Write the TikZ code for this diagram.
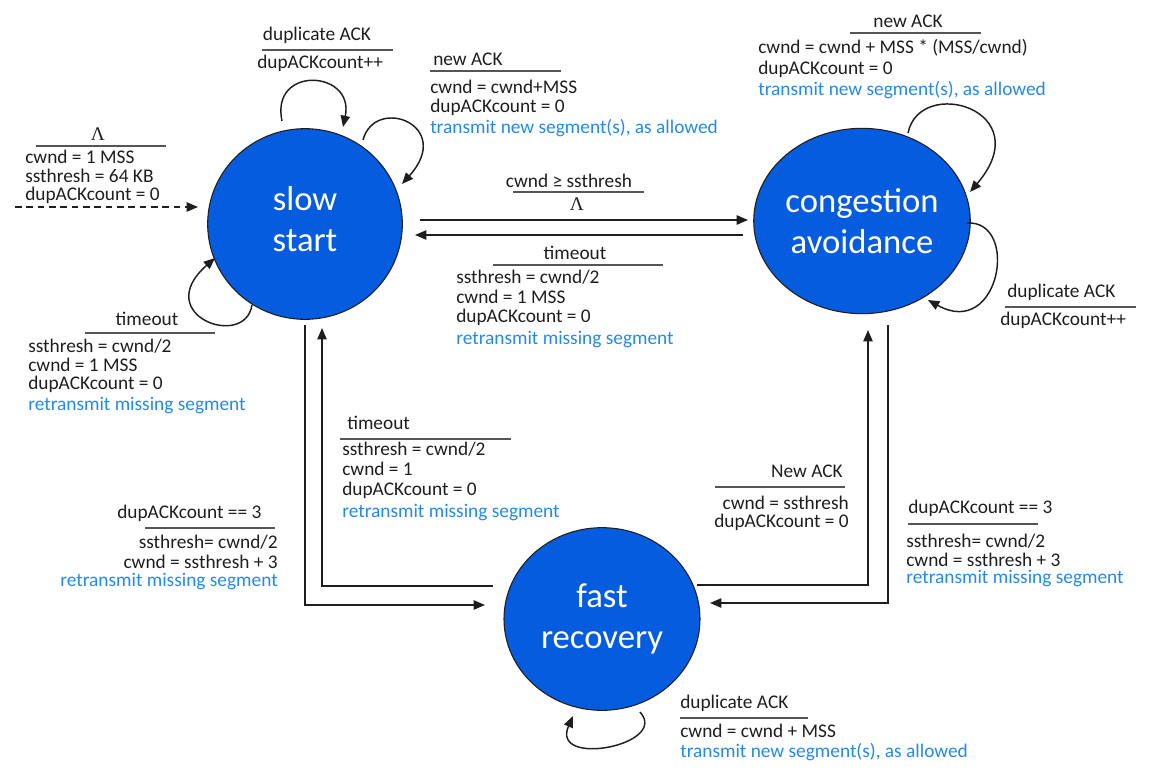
\documentclass[tikz,border=0pt]{standalone}
\usepackage{fontspec}
\setmainfont{Carlito}
\newfontfamily\serifL{Liberation Serif}
\usetikzlibrary{arrows.meta,shapes.geometric}
\definecolor{stateblue}{RGB}{6,92,222}
\definecolor{txtblue}{RGB}{36,138,232}
\definecolor{rulegray}{RGB}{85,85,85}
\definecolor{ink}{RGB}{30,30,30}
\begin{document}
\begin{tikzpicture}[x=0.75pt,y=-0.75pt,
  state/.style={ellipse,draw=ink,line width=0.8pt,fill=stateblue,text=white,
    align=center,inner sep=0pt,font=\fontsize{26}{31}\selectfont},
  statetext/.style={text=white,align=center,inner sep=0pt,font=\fontsize{26}{31}\selectfont},
  t/.style={font=\fontsize{14.5}{17}\selectfont,inner sep=0pt,anchor=base west,text=ink},
  tr/.style={t,anchor=base east},
  tc/.style={t,anchor=base},
  blu/.style={text=txtblue},
  lam/.style={font=\serifL\fontsize{14.5}{17}\selectfont},
  rul/.style={draw=rulegray,line width=1.1pt},
  arr/.style={draw=ink,line width=1.1pt,-{Triangle[length=8.5pt,width=7pt]}},
  conn/.style={draw=ink,line width=1.1pt}
]
\useasboundingbox (0,0) rectangle (1153,771);

% states
\node[state,minimum width=146pt,minimum height=143pt] (ss) at (305,224) {};
\node[statetext] (sst) at (305,219) {slow\\start};
\node[state,minimum width=146pt,minimum height=139pt] (ca) at (862,221) {congestion\\avoidance};
\node[state,minimum width=147pt,minimum height=137pt] (fr) at (602,619) {fast\\recovery};

% coordinates for connector ends
\coordinate (init) at (15,207);
\coordinate (initE) at (198,207);
\coordinate (sc1) at (420,220);
\coordinate (sc2) at (748,220);
\coordinate (cs1) at (743,235);
\coordinate (cs2) at (415,235);
\coordinate (sf1) at (305,325);
\coordinate (sfc) at (305,605);
\coordinate (sf2) at (485,605);
\coordinate (fs1) at (493,586);
\coordinate (fsc) at (322,586);
\coordinate (fs2) at (322,328);
\coordinate (cf1) at (888,325);
\coordinate (cfc) at (888,603);
\coordinate (cf2) at (710,603);
\coordinate (fc1) at (697,585);
\coordinate (fcc) at (868,585);
\coordinate (fc2) at (868,330);
\coordinate (ssA1) at (282,121); \coordinate (ssA2) at (343,127);
\coordinate (ssB1) at (363,140); \coordinate (ssB2) at (402,184);
\coordinate (ssC1) at (252,305); \coordinate (ssC2) at (215,258);
\coordinate (caA1) at (908,133); \coordinate (caA2) at (970,192);
\coordinate (caB1) at (967,223); \coordinate (caB2) at (928,300);
\coordinate (frA1) at (640,712); \coordinate (frA2) at (573,716);

% connectors
\draw[arr,dashed,dash pattern=on 5pt off 3.5pt] (init) -- (initE);
\draw[arr] (sc1) -- (sc2);
\draw[arr] (cs1) -- (cs2);
\draw[arr] (sf1) -- (sfc) -- (sf2);
\draw[arr] (fs1) -- (fsc) -- (fs2);
\draw[arr] (cf1) -- (cfc) -- (cf2);
\draw[arr] (fc1) -- (fcc) -- (fc2);
\draw[arr] (ssA1) .. controls (270,65) and (355,70) .. (ssA2);
\draw[arr] (ssB1) .. controls (375,95) and (455,125) .. (ssB2);
\draw[arr] (ssC1) .. controls (245,350) and (150,315) .. (ssC2);
\draw[arr] (caA1) .. controls (920,75) and (1040,110) .. (caA2);
\draw[arr] (caB1) .. controls (1020,220) and (1000,340) .. (caB2);
\draw[arr] (frA1) .. controls (670,745) and (550,768) .. (frA2);

% initial label
\node[tc,lam] (i0) at (98,140) {Λ};
\draw[rul] (36,146) -- (166,146);
\node[t] (i1) at (25,163) {cwnd = 1 MSS};
\node[t] (i2) at (25,182) {ssthresh = 64 KB};
\node[t] (i3) at (25,200) {dupACKcount = 0};

% slow start: duplicate ACK
\node[tc] (sd0) at (317,40) {duplicate ACK};
\draw[rul] (262,50) -- (393,50);
\node[t] (sd1) at (257,68) {dupACKcount++};

% slow start: new ACK
\node[t] (sn0) at (433,65) {new ACK};
\draw[rul] (430,71) -- (561,71);
\node[t] (sn1) at (430,93) {cwnd = cwnd+MSS};
\node[t] (sn2) at (430,112) {dupACKcount = 0};
\node[t,blu] (sn3) at (430,133) {transmit new segment(s), as allowed};

% slow start -> congestion avoidance
\node[tc] (g0) at (569,187) {cwnd ≥ ssthresh};
\draw[rul] (513,192) -- (644,192);
\node[tc,lam] (g1) at (577,210) {Λ};

% congestion avoidance -> slow start
\node[tc] (m0) at (575,259) {timeout};
\draw[rul] (493,265) -- (663,265);
\node[t] (m1) at (456,283) {ssthresh = cwnd/2};
\node[t] (m2) at (456,303) {cwnd = 1 MSS};
\node[t] (m3) at (456,322) {dupACKcount = 0};
\node[t,blu] (m4) at (456,344) {retransmit missing segment};

% slow start timeout
\node[tc] (l0) at (147,325) {timeout};
\draw[rul] (85,333) -- (215,333);
\node[t] (l1) at (28,352) {ssthresh = cwnd/2};
\node[t] (l2) at (28,371) {cwnd = 1 MSS};
\node[t] (l3) at (28,389) {dupACKcount = 0};
\node[t,blu] (l4) at (28,410) {retransmit missing segment};

% slow start -> fast recovery
\node[t] (d0) at (117,518) {dupACKcount == 3};
\draw[rul] (145,528) -- (275,528);
\node[tr] (d1) at (278,548) {ssthresh= cwnd/2};
\node[tr] (d2) at (278,568) {cwnd = ssthresh + 3};
\node[tr,blu] (d3) at (278,586) {retransmit missing segment};

% fast recovery -> slow start
\node[t] (f0) at (347,429) {timeout};
\draw[rul] (340,439) -- (511,439);
\node[t] (f1) at (342,455) {ssthresh = cwnd/2};
\node[t] (f2) at (342,475) {cwnd = 1};
\node[t] (f3) at (342,495) {dupACKcount = 0};
\node[t,blu] (f4) at (342,517) {retransmit missing segment};

% fast recovery -> congestion avoidance
\node[tr] (n0) at (843,477) {New ACK};
\draw[rul] (715,487) -- (845,487);
\node[tr] (n1) at (849,509) {cwnd = ssthresh};
\node[tr] (n2) at (849,527) {dupACKcount = 0};

% congestion avoidance -> fast recovery
\node[t] (r0) at (908,513) {dupACKcount == 3};
\draw[rul] (908,524) -- (1038,524);
\node[t] (r1) at (906,547) {ssthresh= cwnd/2};
\node[t] (r2) at (906,566) {cwnd = ssthresh + 3};
\node[t,blu] (r3) at (906,583) {retransmit missing segment};

% fast recovery self loop
\node[t] (e0) at (680,708) {duplicate ACK};
\draw[rul] (680,718) -- (808,718);
\node[t] (e1) at (680,737) {cwnd = cwnd + MSS};
\node[t,blu] (e2) at (680,757) {transmit new segment(s), as allowed};

% congestion avoidance: new ACK
\node[tc] (c0) at (908,27) {new ACK};
\draw[rul] (850,33) -- (981,33);
\node[t] (c1) at (758,53) {cwnd = cwnd + MSS * (MSS/cwnd)};
\node[t] (c2) at (758,74) {dupACKcount = 0};
\node[t,blu] (c3) at (758,95) {transmit new segment(s), as allowed};

% congestion avoidance: duplicate ACK
\node[t] (c4) at (1007,297) {duplicate ACK};
\draw[rul] (1005,307) -- (1136,307);
\node[t] (c5) at (1000,325) {dupACKcount++};
\end{tikzpicture}
\end{document}
